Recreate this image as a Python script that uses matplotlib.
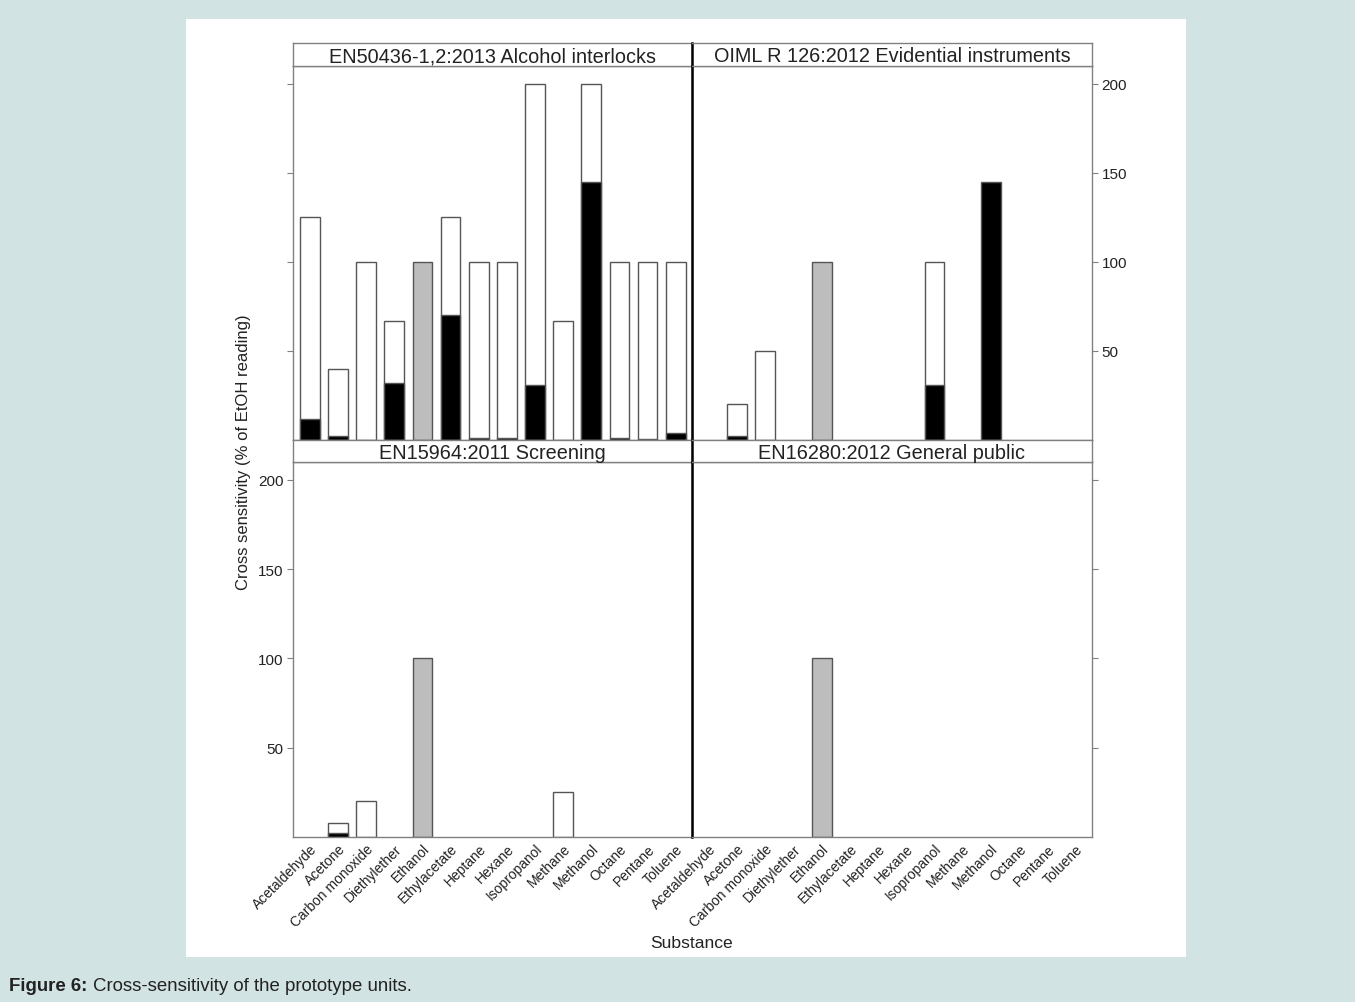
import numpy as np
import matplotlib.pyplot as plt
from matplotlib.patches import Rectangle

plt.rcParams['font.family'] = ['Liberation Sans', 'DejaVu Sans']

substances = ['Acetaldehyde', 'Acetone', 'Carbon monoxide', 'Diethylether', 'Ethanol',
              'Ethylacetate', 'Heptane', 'Hexane', 'Isopropanol', 'Methane', 'Methanol',
              'Octane', 'Pentane', 'Toluene']
nan = np.nan

# allowed cross sensitivity per standard (white bars), % of EtOH reading
interlock_limit = [125, 40, 100, 67, nan, 125, 100, 100, 200, 67, 200, 100, 100, 100]
evidential_limit = [nan, 20, 50, nan, nan, nan, nan, nan, 100, nan, nan, nan, nan, nan]
screening_limit = [nan, 8, 20, nan, nan, nan, nan, nan, nan, 25, nan, nan, nan, nan]
public_limit = [nan] * 14

# measured cross sensitivity of the prototype (black bars)
interlock_meas = [12, 2, nan, 32, nan, 70, 1, 1, 31, nan, 145, 1, 0.5, 4]
evidential_meas = [nan, 2, nan, nan, nan, nan, nan, nan, 31, nan, 145, nan, nan, nan]
screening_meas = [nan, 2, nan, nan, nan, nan, nan, nan, nan, nan, nan, nan, nan, nan]
public_meas = [nan] * 14

ethanol_ref = 100

panels = [
    ('EN50436-1,2:2013 Alcohol interlocks', interlock_limit, interlock_meas),
    ('OIML R 126:2012 Evidential instruments', evidential_limit, evidential_meas),
    ('EN15964:2011 Screening', screening_limit, screening_meas),
    ('EN16280:2012 General public', public_limit, public_meas),
]

W, H = 1355, 1003
fig = plt.figure(figsize=(W / 100, H / 100), dpi=100)
fig.patch.set_facecolor('#d1e3e2')
fig.add_artist(Rectangle((186 / W, 1 - 958 / H), 1000 / W, 938 / H, zorder=-10,
                         transform=fig.transFigure, facecolor='white', edgecolor='none'))

# panel boxes in pixels: left, top, right, bottom
boxes = [(293, 67, 692, 441), (692, 67, 1092, 441), (293, 463, 692, 838), (692, 463, 1092, 838)]
strips = [(293, 44, 692, 67), (692, 44, 1092, 67), (293, 441, 692, 463), (692, 441, 1092, 463)]

x = np.arange(1, 15)
edge = '#555555'
frame = '#808080'
for i, (title, lim, meas) in enumerate(panels):
    l, t, r, b = boxes[i]
    ax = fig.add_axes([l / W, 1 - b / H, (r - l) / W, (b - t) / H])
    ax.set_facecolor('none')
    ax.bar(x, np.array(lim, dtype=float), width=0.7, color='white', edgecolor=edge, linewidth=1)
    ax.bar(x, np.array(meas, dtype=float), width=0.7, color='black', edgecolor=edge, linewidth=1)
    ax.bar(5, ethanol_ref, width=0.7, color='#bdbdbd', edgecolor=edge, linewidth=1)
    ax.set_xlim(0.4, 14.58)
    ax.set_ylim(0, 210)
    ax.set_yticks([50, 100, 150, 200])
    for s in ax.spines.values():
        s.set_color(frame)
        s.set_linewidth(1)
    ax.tick_params(colors='#808080', labelcolor='#222222', labelsize=11, length=4,
                   width=0.8, pad=3)
    right = i % 2 == 1
    ax.yaxis.set_ticks_position('right' if right else 'left')
    ax.tick_params(axis='y', labelleft=(i == 2), labelright=(i == 1))
    if right:
        ax.spines['left'].set_color('black')
        ax.spines['left'].set_linewidth(1.8)
    if i >= 2:
        ax.set_xticks(x)
        ax.set_xticklabels(substances, rotation=45, ha='right', va='top',
                           rotation_mode='anchor', fontsize=10, color='#222222')
        ax.tick_params(axis='x', length=0, pad=3)
    else:
        ax.set_xticks([])

    sl, st, sr, sb = strips[i]
    sax = fig.add_axes([sl / W, 1 - sb / H, (sr - sl) / W, (sb - st) / H])
    sax.set_xticks([])
    sax.set_yticks([])
    for s in sax.spines.values():
        s.set_color(frame)
        s.set_linewidth(1)
    if right:
        sax.spines['left'].set_color('black')
        sax.spines['left'].set_linewidth(1.8)
    sax.text(0.5, 0.45, title, ha='center', va='center', fontsize=14.3, color='#222222',
             transform=sax.transAxes)

fig.text(243 / W, 1 - 452 / H, 'Cross sensitivity (% of EtOH reading)', rotation=90,
         ha='center', va='center', fontsize=12, color='#222222')
fig.text(692 / W, 1 - 944 / H, 'Substance', ha='center', va='center', fontsize=12.6,
         color='#222222')
fig.text(9 / W, 1 - 987 / H, 'Figure 6:', ha='left', va='center', fontsize=13.4,
         fontweight='bold', color='#222222')
fig.text(93 / W, 1 - 987 / H, 'Cross-sensitivity of the prototype units.', ha='left',
         va='center', fontsize=13.4, color='#222222')

plt.savefig('out.png', dpi=100)
